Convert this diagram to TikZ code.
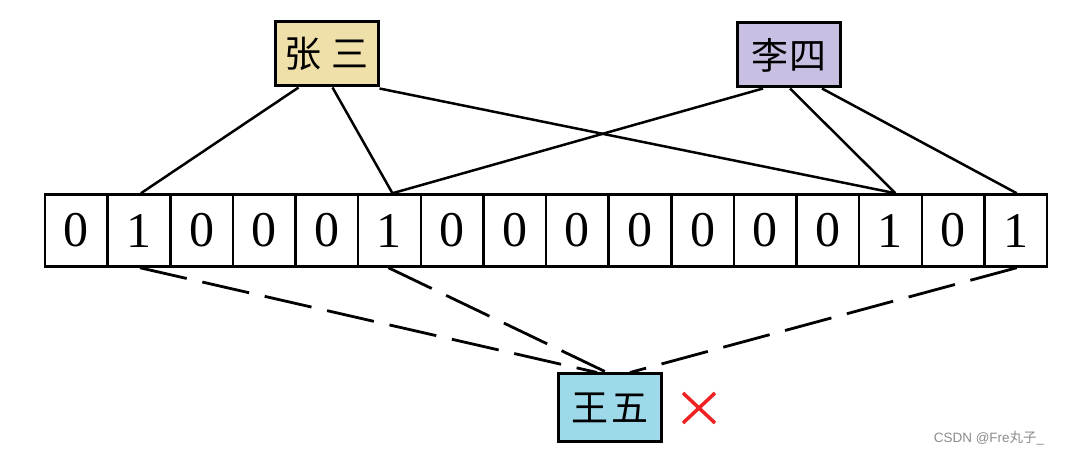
\documentclass[tikz,border=0pt]{standalone}
\usepackage{fontspec}
\setmainfont{Liberation Serif}
\newfontfamily\cjk{Noto Sans CJK SC}
\newfontfamily\wmsans{Liberation Sans}
\usetikzlibrary{calc}
\definecolor{zsfill}{HTML}{EFE0A9}
\definecolor{lsfill}{HTML}{C8BFE3}
\definecolor{wwfill}{HTML}{9DD9E9}
\definecolor{xred}{HTML}{EE2222}
\tikzset{
  cell/.style={draw, line width=2.5pt, minimum width=62.625pt, minimum height=72pt, inner sep=0pt, font=\fontsize{50}{50}\selectfont},
  person/.style={draw, line width=3pt, minimum width=103pt, minimum height=64pt, inner sep=0pt, font=\cjk\fontsize{37}{37}\selectfont},
  link/.style={line width=2.5pt},
  dlink/.style={line width=2.8pt, dash pattern=on 48pt off 16pt},
}
\begin{document}
\begin{tikzpicture}[x=1pt,y=-1pt]
\useasboundingbox (0,0) rectangle (1069,454);
\fill[white] (0,0) rectangle (1069,454);
% bit array
\foreach \v [count=\i from 0] in {0,1,0,0,0,1,0,0,0,0,0,0,0,1,0,1}
  \node[cell] (c\i) at ({45+62.625*(\i+0.5)},230.5) {\v};
% people
\node[person, fill=zsfill] (zs) at (326.5,54) {张\hspace{0.25em}三};
\node[person, fill=lsfill] (ls) at (789,55) {李\hspace{0.05em}四};
\node[person, fill=wwfill, minimum height=67pt] (ww) at (610,407.5) {王\hspace{0.1em}五};
% connectors
\draw[link] ($(zs.south)+(-28,0)$) -- ($(c1.north)+(2,0)$);
\draw[link] ($(zs.south)+(6,0)$) -- ($(c5.north)+(3,0)$);
\draw[link] ($(zs.south east)+(0,1)$) -- ($(c13.north)+(5,0)$);
\draw[link] ($(ls.south)+(-26,0)$) -- ($(c5.north)+(3,0)$);
\draw[link] ($(ls.south)+(1,0)$) -- ($(c13.north)+(5,0)$);
\draw[link] ($(ls.south)+(33,0)$) -- ($(c15.north)+(1,0)$);
% dashed connectors
\draw[dlink] ($(c1.south)+(1,0)$) -- ($(ww.north)+(-13,0)$);
\draw[dlink] ($(c5.south)+(-1,0)$) -- ($(ww.north)+(-3,0)$);
\draw[dlink] ($(c15.south)+(1,0)$) -- ($(ww.north)+(20,0)$);
% red cross
\coordinate (xc) at (699,408);
\draw[xred, line width=3.5pt] ($(xc)+(-16,-15)$) -- ($(xc)+(16,15)$);
\draw[xred, line width=3.5pt] ($(xc)+(16,-15)$) -- ($(xc)+(-16,15)$);
% watermark
\node[text=black!45, font=\wmsans\fontsize{13.5}{13.5}\selectfont, inner sep=0pt] (wm) at (989,438) {CSDN @Fre{\cjk 丸子}\_};
\end{tikzpicture}
\end{document}
